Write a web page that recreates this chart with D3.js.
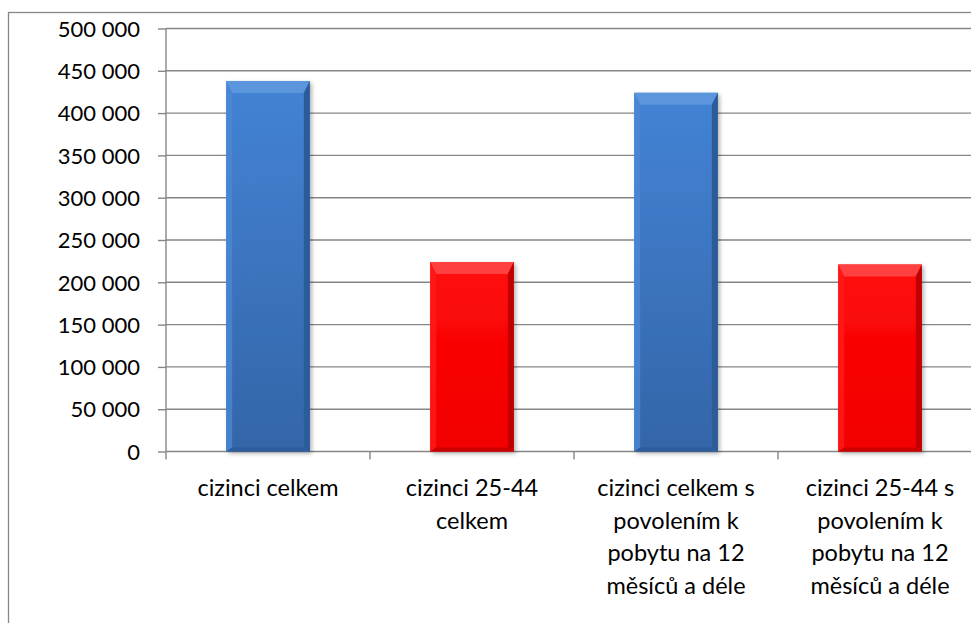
<!DOCTYPE html>
<html><head><meta charset="utf-8">
<script src="https://cdn.jsdelivr.net/npm/d3@7"></script>
<style>html,body{margin:0;padding:0;background:#fff;overflow:hidden}svg{display:block}</style>
</head><body>
<svg id="c" width="971" height="623"></svg>
<script>
const categories = ["cizinci celkem", "cizinci 25-44 celkem", "cizinci celkem s povolením k pobytu na 12 měsíců a déle", "cizinci 25-44 s povolením k pobytu na 12 měsíců a déle"];
const categoryLines = [["cizinci celkem"], ["cizinci 25-44", "celkem"], ["cizinci celkem s", "povolením k", "pobytu na 12", "měsíců a déle"], ["cizinci 25-44 s", "povolením k", "pobytu na 12", "měsíců a déle"]];
const values = [438000, 224000, 424000, 221000];
const barColorKeys = ["blue", "red", "blue", "red"];
const yTicks = [0, 50000, 100000, 150000, 200000, 250000, 300000, 350000, 400000, 450000, 500000];

const palette = {
  blue: {top: "#5b96dd", light: "#4a88d4", dark: "#2c5b99", grTop: "#4383d5", grBot: "#3465a8"},
  red:  {top: "#ff4040", light: "#ff1a1a", dark: "#c00000", grTop: "#ff0a0a", grBot: "#f20000"}
};

const svg = d3.select("#c");
const font = "Lato, 'Open Sans', sans-serif";
const fs = 23.5;
const fsY = 22;

// outer frame
svg.append("rect").attr("x", 8.5).attr("y", 12.5).attr("width", 1200).attr("height", 1000)
  .attr("fill", "none").attr("stroke", "#878787").attr("stroke-width", 1.3);

const x = d3.scaleBand().domain(categories).range([166, 982]).padding(0);
const y = d3.scaleLinear().domain([0, 500000]).range([451.5, 28.5]);

const defs = svg.append("defs");
const f = defs.append("filter").attr("id", "sh").attr("x", "-20%").attr("y", "-20%").attr("width", "150%").attr("height", "150%");
f.append("feDropShadow").attr("dx", 2).attr("dy", 2).attr("stdDeviation", 2).attr("flood-color", "#000").attr("flood-opacity", 0.3);
Object.entries(palette).forEach(([k, p]) => {
  const g = defs.append("linearGradient").attr("id", "g-" + k).attr("x1", 0).attr("y1", 0).attr("x2", 0).attr("y2", 1);
  g.append("stop").attr("offset", "0%").attr("stop-color", p.grTop);
  g.append("stop").attr("offset", "100%").attr("stop-color", p.grBot);
});

// gridlines
svg.append("g").selectAll("line").data(yTicks.filter(d => d > 0)).join("line")
  .attr("x1", 166).attr("x2", 982).attr("y1", d => y(d)).attr("y2", d => y(d))
  .attr("stroke", "#868686").attr("stroke-width", 1.4);

// y axis
const yAxis = d3.axisLeft(y).tickValues(yTicks).tickSize(8).tickPadding(18)
  .tickFormat(d => d3.format(",")(d).replace(/,/g, " "));
const ya = svg.append("g").attr("transform", "translate(166,0)").call(yAxis);
ya.select(".domain").attr("stroke", "#868686").attr("stroke-width", 1.4).attr("d", "M0,28.5V451.5");
ya.selectAll(".tick line").attr("stroke", "#868686").attr("stroke-width", 1.4);
ya.selectAll(".tick text").attr("font-family", font).attr("font-size", fsY).attr("fill", "#000").attr("dy", "0.35em");

// x axis
const xAxis = d3.axisBottom(x).tickSize(0).tickFormat("");
const xa = svg.append("g").attr("transform", "translate(0,451.5)").call(xAxis);
xa.select(".domain").attr("stroke", "#868686").attr("stroke-width", 1.4).attr("d", "M166,0H982");
xa.selectAll(".tick").remove();
const bounds = categories.map(c => x(c)).concat([x.range()[1]]);
xa.selectAll("line.ct").data(bounds).join("line").attr("class", "ct")
  .attr("x1", d => d).attr("x2", d => d).attr("y1", 0).attr("y2", 8)
  .attr("stroke", "#868686").attr("stroke-width", 1.4);

// category labels
const lab = svg.append("g");
categories.forEach((c, i) => {
  const t = lab.append("text").attr("x", x(c) + x.bandwidth() / 2).attr("y", 496)
    .attr("text-anchor", "middle").attr("font-family", font).attr("font-size", fs).attr("fill", "#000");
  categoryLines[i].forEach((ln, j) => {
    t.append("tspan").attr("x", x(c) + x.bandwidth() / 2).attr("y", 496 + j * 32.5).text(ln);
  });
});

// bars
const bw = x.bandwidth() * 0.41;
const bars = svg.append("g");
categories.forEach((c, i) => {
  const p = palette[barColorKeys[i]];
  const x0 = x(c) + (x.bandwidth() - bw) / 2, x1 = x0 + bw;
  const y0 = y(values[i]), y1 = y(0);
  const g = bars.append("g");
  g.append("rect").attr("x", x0).attr("y", y0).attr("width", bw).attr("height", y1 - y0)
    .attr("fill", "url(#g-" + barColorKeys[i] + ")").attr("filter", "url(#sh)");
  const tb = 12, sb = 6, bb = 4;
  g.append("path").attr("d", `M${x0},${y0}H${x1}L${x1 - sb},${y0 + tb}H${x0 + sb}Z`).attr("fill", p.top);
  g.append("path").attr("d", `M${x1},${y0}V${y1}L${x1 - sb},${y1 - bb}V${y0 + tb}Z`).attr("fill", p.dark);
  g.append("path").attr("d", `M${x0},${y0}V${y1}L${x0 + sb},${y1 - bb}V${y0 + tb}Z`).attr("fill", p.light).attr("opacity", 0.8);
  g.append("path").attr("d", `M${x0},${y1}H${x1}L${x1 - sb},${y1 - bb}H${x0 + sb}Z`).attr("fill", p.dark).attr("opacity", 0.8);
});
</script>
</body></html>
